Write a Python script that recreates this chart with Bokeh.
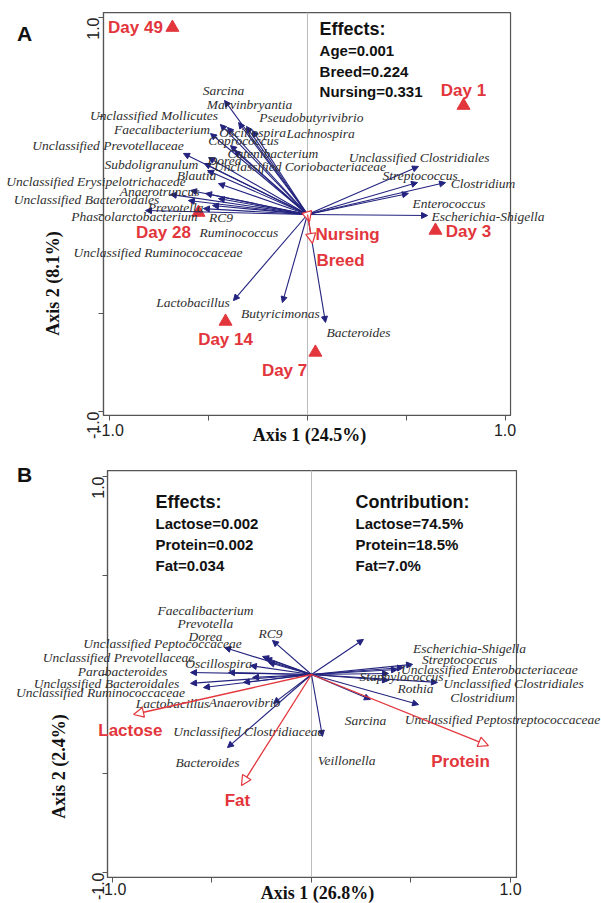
import math
from bokeh.plotting import figure
from bokeh.models import (ColumnDataSource, Arrow, NormalHead, LabelSet, Label, BoxAnnotation,
                          FixedTicker, CustomJSTickFormatter, Range1d)
from bokeh.layouts import column
from bokeh.core.properties import value
from bokeh.embed import file_html
from bokeh.resources import INLINE

BLUE = "#23237f"
RED = "#e2363c"
GREY = "#555555"

# ---------------- Panel A data ----------------
a_species = ["Sarcina", "Marvinbryantia", "Pseudobutyrivibrio", "Lachnospira",
             "Unclassified Mollicutes", "Faecalibacterium", "Oscillospira", "Coprococcus",
             "Unclassified Prevotellaceae", "Catenibacterium", "Dorea",
             "Unclassified Coriobacteriaceae", "Subdoligranulum", "Blautia",
             "Unclassified Erysipelotrichaceae", "Anaerotruncus", "Unclassified Bacteroidales",
             "Prevotella", "Phascolarctobacterium", "RC9", "Ruminococcus",
             "Unclassified Ruminococcaceae", "Lactobacillus", "Butyricimonas", "Bacteroides",
             "Unclassified Clostridiales", "Streptococcus", "Clostridium", "Enterococcus",
             "Escherichia-Shigella"]
a_axis1 = [-0.420, -0.349, -0.309, -0.278, -0.441, -0.491, -0.405, -0.390, -0.628, -0.370,
           -0.501, -0.506, -0.522, -0.451, -0.592, -0.516, -0.694, -0.527, -0.820, -0.451,
           -0.481, -0.603, -0.375, -0.127, 0.091, 0.562, 0.557, 0.699, 0.511, 0.608]
a_axis2 = [0.579, 0.467, 0.447, 0.426, 0.457, 0.411, 0.442, 0.350, 0.310, 0.325,
           0.289, 0.223, 0.259, 0.157, 0.122, 0.107, 0.102, 0.030, 0.020, 0.081,
           0.046, 0.071, -0.437, -0.447, -0.548, 0.244, 0.162, 0.162, 0.107, -0.005]
a_label_x = [-0.425, -0.294, 0.020, 0.066, -0.777, -0.737, -0.278, -0.324, -1.010, -0.175,
             -0.420, -0.038, -0.790, -0.562, -1.071, -0.749, -1.119, -0.668, -0.876, -0.438,
             -0.347, -0.757, -0.580, -0.137, 0.258, 0.565, 0.570, 0.889, 0.716, 0.914]
a_label_y = [0.629, 0.558, 0.492, 0.411, 0.503, 0.431, 0.416, 0.376, 0.350, 0.310,
             0.274, 0.244, 0.254, 0.198, 0.168, 0.117, 0.076, 0.036, -0.010, -0.015,
             -0.091, -0.193, -0.447, -0.503, -0.599, 0.289, 0.198, 0.157, 0.056, -0.010]

a_days = ["Day 49", "Day 1", "Day 3", "Day 28", "Day 14", "Day 7"]
a_day_x = [-0.684, 0.790, 0.648, -0.552, -0.415, 0.040]
a_day_y = [0.949, 0.553, -0.081, 0.010, -0.543, -0.700]
a_day_label_x = [-0.871, 0.790, 0.815, -0.729, -0.415, -0.116]
a_day_label_y = [0.949, 0.629, -0.086, -0.091, -0.635, -0.792]

a_factors = ["Nursing", "Breed"]
a_factor_x = [0.010, 0.025]
a_factor_y = [-0.036, -0.147]
a_factor_label_x = [0.203, 0.167]
a_factor_label_y = [-0.102, -0.234]

a_effects = ["Age=0.001", "Breed=0.224", "Nursing=0.331"]

# ---------------- Panel B data ----------------
b_species = ["RC9", "Faecalibacterium", "Prevotella", "Dorea", "Unclassified Peptococcaceae",
             "Unclassified Prevotellaceae", "Oscillospira", "Parabacteroides",
             "Unclassified Bacteroidales", "Unclassified Ruminococcaceae", "Lactobacillus",
             "Anaerovibrio", "Unclassified Clostridiaceae", "Bacteroides", "Veillonella",
             "Sarcina", "Unclassified Peptostreptococcaceae", "Clostridium",
             "Unclassified Clostridiales", "Rothia", "Staphylococcus",
             "Unclassified Enterobacteriaceae", "Streptococcus", "Escherichia-Shigella"]
b_axis1 = [-0.196, -0.231, -0.216, -0.246, -0.437, -0.417, -0.307, -0.608, -0.608, -0.543,
           -0.342, -0.191, -0.296, -0.422, 0.055, 0.296, 0.432, 0.538, 0.633, 0.387,
           0.387, 0.462, 0.508, 0.261]
b_axis2 = [0.172, 0.081, 0.061, 0.091, 0.136, 0.010, 0.045, 0.010, -0.045, -0.066,
           -0.040, -0.146, -0.015, -0.369, -0.313, -0.126, 0.025, -0.152, -0.040, -0.030,
           0.005, 0.035, 0.051, 0.177]
b_label_x = [-0.206, -0.533, -0.533, -0.533, -0.749, -0.970, -0.467, -0.950, -1.030, -1.060,
             -0.698, -0.337, -0.317, -0.523, 0.176, 0.271, 0.960, 0.859, 1.015, 0.523,
             0.452, 0.894, 0.744, 0.794]
b_label_y = [0.207, 0.323, 0.258, 0.192, 0.157, 0.086, 0.056, 0.015, -0.045, -0.091,
             -0.146, -0.141, -0.288, -0.444, -0.434, -0.232, -0.227, -0.116, -0.045, -0.071,
             -0.010, 0.025, 0.076, 0.131]

b_factors = ["Lactose", "Fat", "Protein"]
b_factor_x = [-0.894, -0.352, 0.889]
b_factor_y = [-0.202, -0.561, -0.359]
b_factor_label_x = [-0.910, -0.372, 0.749]
b_factor_label_y = [-0.283, -0.636, -0.439]

b_effects = ["Lactose=0.002", "Protein=0.002", "Fat=0.034"]
b_contrib = ["Lactose=74.5%", "Protein=18.5%", "Fat=7.0%"]

TICKS = [-1, -0.5, 0, 0.5, 1]


def make_fig(height, view_x, view_y, box_x, box_y, lab_standoff):
    p = figure(width=601, height=height, x_range=Range1d(*view_x), y_range=Range1d(*view_y),
               output_backend="svg", toolbar_location=None,
               min_border=0, min_border_left=0, min_border_right=0, min_border_top=0,
               min_border_bottom=0)
    p.grid.visible = False
    p.outline_line_color = None
    p.background_fill_color = "white"
    p.border_fill_color = "white"
    fmt = CustomJSTickFormatter(code="""
        if (Math.abs(tick - 1) < 1e-9) { return '1.0'; }
        if (Math.abs(tick + 1) < 1e-9) { return '-1.0'; }
        return '';
    """)
    xa, ya = p.xaxis[0], p.yaxis[0]
    xa.fixed_location = box_y[0]
    ya.fixed_location = box_x[0]
    xa.bounds = box_x
    ya.bounds = box_y
    for ax in (xa, ya):
        ax.ticker = FixedTicker(ticks=TICKS)
        ax.formatter = fmt
        ax.major_label_text_font = "Liberation Sans"
        ax.major_label_text_font_size = "16px"
        ax.major_label_text_color = "#222222"
        ax.major_tick_out = 5
        ax.major_tick_in = 0
        ax.minor_tick_out = 0
        ax.minor_tick_in = 0
        ax.major_tick_line_color = GREY
        ax.axis_line_color = GREY
        ax.axis_line_width = 1.2
    xa.major_label_standoff = lab_standoff
    ya.major_label_standoff = 5
    ya.major_label_orientation = math.pi / 2
    # plot box
    p.add_layout(BoxAnnotation(left=box_x[0], right=box_x[1], bottom=box_y[0], top=box_y[1],
                               fill_alpha=0, line_color=GREY, line_alpha=1.0, line_width=1.2,
                               line_dash="solid", level="underlay"))
    # zero reference line of Axis 1
    p.segment(x0=[0], y0=[box_y[0]], x1=[0], y1=[box_y[1]], line_color="#bdbdbd", line_width=1)
    return p


def add_species(p, names, xs, ys, lx, ly):
    src = ColumnDataSource(dict(x=xs, y=ys, lx=lx, ly=ly, name=names,
                                x0=[0.0] * len(xs), y0=[0.0] * len(xs)))
    p.add_layout(Arrow(end=NormalHead(size=6, fill_color=BLUE, line_color=BLUE, line_width=1),
                       x_start="x0", y_start="y0", x_end="x", y_end="y", source=src,
                       line_color=BLUE, line_width=1.1))
    p.add_layout(LabelSet(x="lx", y="ly", text="name", source=src,
                          text_font=value("Liberation Serif"), text_font_style="italic",
                          text_font_size="13.5px", text_color="#2e2e2e",
                          text_align="center", text_baseline="middle"))


def add_factors(p, names, xs, ys, lx, ly):
    src = ColumnDataSource(dict(x=xs, y=ys, lx=lx, ly=ly, name=names,
                                x0=[0.0] * len(xs), y0=[0.0] * len(xs)))
    p.add_layout(Arrow(end=NormalHead(size=10, fill_color="white", line_color=RED, line_width=1.2),
                       x_start="x0", y_start="y0", x_end="x", y_end="y", source=src,
                       line_color=RED, line_width=1.3))
    p.add_layout(LabelSet(x="lx", y="ly", text="name", source=src,
                          text_font=value("Liberation Sans"), text_font_style="bold",
                          text_font_size="17px", text_color=RED,
                          text_align="center", text_baseline="middle"))


def txt(p, x, y, s, size="15px", style="bold", font="Liberation Sans", color="#111111",
        align="left", angle=0.0):
    p.add_layout(Label(x=x, y=y, text=s, text_font=font, text_font_style=style,
                       text_font_size=size, text_color=color, text_align=align,
                       text_baseline="middle", angle=angle))


# ---------------- Panel A ----------------
pA = make_fig(452, (-1.5544, 1.4886), (-1.2081, 1.0863), (-1.033, 1.028), (-1.020, 1.025), 4)
add_species(pA, a_species, a_axis1, a_axis2, a_label_x, a_label_y)
add_factors(pA, a_factors, a_factor_x, a_factor_y, a_factor_label_x, a_factor_label_y)
day_src = ColumnDataSource(dict(x=a_day_x, y=a_day_y, lx=a_day_label_x, ly=a_day_label_y,
                                name=a_days))
pA.scatter("x", "y", source=day_src, marker="triangle", size=13, fill_color=RED,
           line_color=RED)
pA.add_layout(LabelSet(x="lx", y="ly", text="name", source=day_src,
                       text_font=value("Liberation Sans"), text_font_style="bold",
                       text_font_size="17px", text_color=RED,
                       text_align="center", text_baseline="middle"))
txt(pA, 0.061, 0.944, "Effects:", size="18px")
for i, s in enumerate(a_effects):
    txt(pA, 0.061, 0.832 - i * 0.104, s, size="15px")
txt(pA, 0.01, -1.117, "Axis 1 (24.5%)", size="18px", font="Liberation Serif", align="center")
txt(pA, -1.29, -0.35, "Axis 2 (8.1%)", size="18px", font="Liberation Serif", align="center",
    angle=math.pi / 2)
txt(pA, -1.433, 0.919, "A", size="21px", align="center")

# ---------------- Panel B ----------------
pB = make_fig(451, (-1.5628, 1.4573), (-1.1566, 1.1212), (-1.025, 1.030), (-1.025, 1.030), 1)
add_species(pB, b_species, b_axis1, b_axis2, b_label_x, b_label_y)
add_factors(pB, b_factors, b_factor_x, b_factor_y, b_factor_label_x, b_factor_label_y)
txt(pB, -0.784, 0.869, "Effects:", size="18px")
for i, s in enumerate(b_effects):
    txt(pB, -0.784, 0.763 - i * 0.106, s, size="15px")
txt(pB, 0.221, 0.869, "Contribution:", size="18px")
for i, s in enumerate(b_contrib):
    txt(pB, 0.221, 0.763 - i * 0.106, s, size="15px")
txt(pB, 0.03, -1.106, "Axis 1 (26.8%)", size="18px", font="Liberation Serif", align="center")
txt(pB, -1.27, -0.465, "Axis 2 (2.4%)", size="18px", font="Liberation Serif", align="center",
    angle=math.pi / 2)
txt(pB, -1.442, 1.01, "B", size="21px", align="center")

layout = column(pA, pB, spacing=0)
open("out.html", "w").write(file_html(layout, INLINE))
